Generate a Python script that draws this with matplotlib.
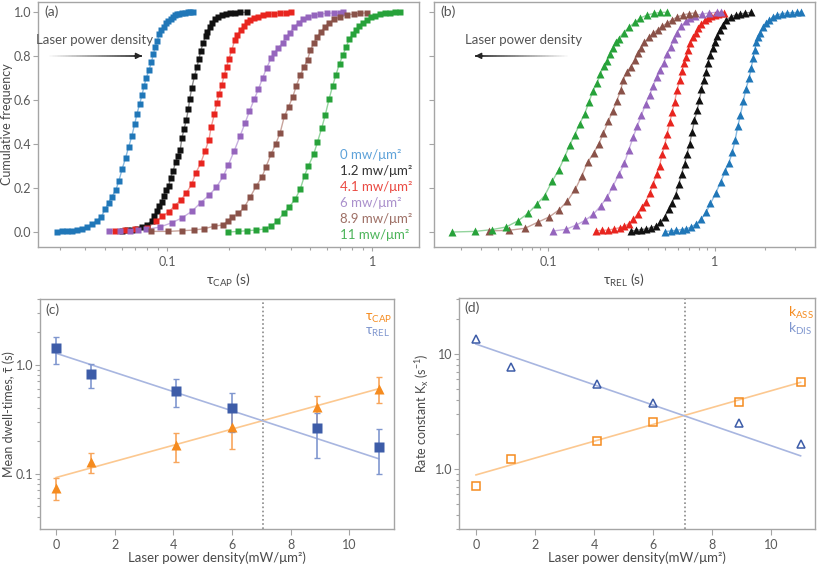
import numpy as np
import matplotlib
matplotlib.use('Agg')
import matplotlib.pyplot as plt
from matplotlib.collections import LineCollection
from matplotlib.ticker import FixedLocator, NullFormatter, LogLocator

plt.rcParams['font.family'] = ['Lato', 'DejaVu Sans']
plt.rcParams['mathtext.fontset'] = 'dejavusans'

# ---------------- data: panel (a) cumulative frequency of tau_CAP ----------------
a_blue_x = [0.0292,0.0308,0.0327,0.0345,0.0365,0.0387,0.0409,0.0432,0.0457,0.0478,0.0500,0.0519,0.0539,0.0564,0.0583,0.0605,0.0628,0.0650,0.0673,0.0695,0.0714,0.0736,0.0755,0.0773,0.0793,0.0817,0.0839,0.0858,0.0877,0.0897,0.0918,0.0938,0.0963,0.0985,0.101,0.104,0.107,0.109,0.112,0.115,0.118,0.122,0.126,0.129,0.134]
a_blue_y = [0.000,0.003,0.003,0.006,0.009,0.015,0.024,0.037,0.052,0.070,0.104,0.134,0.161,0.193,0.234,0.288,0.338,0.387,0.435,0.490,0.539,0.584,0.623,0.664,0.703,0.737,0.772,0.810,0.843,0.871,0.900,0.919,0.935,0.950,0.962,0.971,0.980,0.986,0.991,0.994,0.995,0.998,1.0,1.0,1.0]
a_black_x = [0.0601,0.0635,0.0673,0.0711,0.0752,0.0796,0.0841,0.0867,0.0891,0.0918,0.0942,0.0967,0.0989,0.102,0.104,0.107,0.110,0.113,0.116,0.118,0.121,0.124,0.127,0.129,0.132,0.136,0.140,0.143,0.146,0.150,0.154,0.157,0.162,0.166,0.171,0.178,0.185,0.193,0.203,0.215,0.227,0.245]
a_black_y = [0.005,0.011,0.011,0.014,0.023,0.032,0.050,0.071,0.095,0.117,0.138,0.165,0.192,0.211,0.247,0.276,0.317,0.344,0.374,0.426,0.468,0.508,0.559,0.605,0.656,0.708,0.753,0.786,0.826,0.859,0.892,0.912,0.935,0.953,0.968,0.980,0.988,0.992,0.995,0.998,1.0,1.0]
a_red_x = [0.0557,0.0624,0.0698,0.0796,0.0883,0.0948,0.102,0.109,0.117,0.124,0.132,0.138,0.146,0.153,0.160,0.164,0.170,0.175,0.179,0.185,0.190,0.195,0.200,0.207,0.214,0.220,0.229,0.236,0.245,0.254,0.266,0.279,0.295,0.312,0.333,0.356,0.380,0.401]
a_red_y = [0.006,0.009,0.014,0.018,0.048,0.071,0.092,0.120,0.147,0.177,0.218,0.268,0.314,0.367,0.420,0.477,0.535,0.586,0.626,0.671,0.714,0.750,0.786,0.829,0.874,0.898,0.920,0.938,0.955,0.967,0.974,0.980,0.986,0.991,0.994,0.997,0.998,1.0]
a_purple_x = [0.0519,0.0587,0.0657,0.0722,0.0793,0.0925,0.106,0.118,0.132,0.146,0.160,0.174,0.188,0.199,0.213,0.227,0.240,0.252,0.266,0.279,0.293,0.306,0.321,0.334,0.349,0.366,0.380,0.398,0.418,0.438,0.462,0.489,0.523,0.557,0.601,0.648,0.698,0.724]
a_purple_y = [0.005,0.006,0.006,0.009,0.012,0.023,0.043,0.064,0.094,0.134,0.167,0.204,0.254,0.306,0.371,0.437,0.496,0.549,0.604,0.651,0.703,0.747,0.790,0.816,0.839,0.861,0.886,0.907,0.935,0.953,0.968,0.980,0.988,0.992,0.995,0.997,0.998,1.0]
a_brown_x = [0.0839,0.101,0.118,0.135,0.151,0.169,0.188,0.198,0.208,0.223,0.238,0.254,0.272,0.290,0.303,0.321,0.339,0.356,0.373,0.391,0.410,0.426,0.446,0.466,0.484,0.500,0.520,0.541,0.562,0.590,0.619,0.655,0.698,0.752,0.811,0.873,0.942]
a_brown_y = [0.003,0.003,0.006,0.009,0.015,0.026,0.033,0.052,0.067,0.085,0.113,0.158,0.209,0.250,0.295,0.353,0.402,0.452,0.527,0.569,0.615,0.664,0.714,0.752,0.785,0.828,0.861,0.889,0.912,0.935,0.953,0.968,0.980,0.988,0.992,0.995,0.998]
a_green_x = [0.198,0.223,0.245,0.271,0.299,0.322,0.345,0.372,0.395,0.421,0.446,0.468,0.489,0.518,0.541,0.568,0.590,0.617,0.641,0.665,0.693,0.720,0.747,0.773,0.802,0.832,0.865,0.900,0.942,0.986,1.035,1.094,1.157,1.224,1.294,1.371]
a_green_y = [0.000,0.003,0.006,0.009,0.014,0.027,0.050,0.088,0.116,0.149,0.195,0.257,0.301,0.353,0.409,0.475,0.531,0.607,0.664,0.714,0.767,0.805,0.843,0.877,0.900,0.919,0.938,0.953,0.965,0.977,0.985,0.991,0.995,0.998,1.0,1.0]

# ---------------- data: panel (b) cumulative frequency of tau_REL ----------------
b_blue_x = [0.501,0.542,0.586,0.631,0.675,0.723,0.775,0.826,0.885,0.940,1.01,1.08,1.15,1.21,1.27,1.32,1.37,1.42,1.48,1.53,1.60,1.65,1.69,1.73,1.77,1.82,1.87,1.95,2.03,2.12,2.22,2.36,2.53,2.71,2.90,3.11,3.26]
b_blue_y = [0.002,0.005,0.008,0.011,0.015,0.023,0.038,0.058,0.089,0.130,0.176,0.226,0.276,0.313,0.363,0.417,0.481,0.531,0.597,0.649,0.699,0.745,0.791,0.829,0.863,0.888,0.908,0.933,0.951,0.966,0.979,0.988,0.994,0.997,0.998,1.0,1.0]
b_black_x = [0.315,0.339,0.361,0.387,0.415,0.445,0.472,0.501,0.530,0.555,0.581,0.608,0.631,0.658,0.681,0.706,0.730,0.754,0.782,0.807,0.830,0.857,0.885,0.906,0.940,0.970,0.998,1.03,1.07,1.11,1.17,1.24,1.33,1.42,1.52,1.65]
b_black_y = [0.005,0.008,0.011,0.014,0.020,0.027,0.046,0.069,0.104,0.134,0.169,0.218,0.264,0.310,0.356,0.402,0.455,0.508,0.554,0.600,0.649,0.692,0.730,0.768,0.806,0.837,0.863,0.890,0.921,0.944,0.963,0.979,0.988,0.992,0.997,1.0]
b_red_x = [0.193,0.212,0.230,0.249,0.269,0.287,0.305,0.324,0.345,0.366,0.387,0.407,0.427,0.447,0.466,0.483,0.501,0.518,0.537,0.555,0.573,0.594,0.614,0.637,0.652,0.673,0.692,0.714,0.738,0.766,0.794,0.828,0.867,0.908,0.951,0.995,1.04,1.08,1.13]
b_red_y = [0.005,0.008,0.009,0.014,0.020,0.026,0.038,0.058,0.081,0.115,0.139,0.176,0.218,0.264,0.302,0.353,0.398,0.447,0.501,0.547,0.592,0.646,0.692,0.734,0.768,0.798,0.829,0.860,0.887,0.908,0.928,0.948,0.963,0.974,0.982,0.988,0.992,0.995,0.997]
b_purple_x = [0.108,0.128,0.148,0.167,0.187,0.207,0.227,0.246,0.267,0.287,0.305,0.324,0.342,0.363,0.384,0.406,0.427,0.447,0.472,0.494,0.518,0.542,0.568,0.594,0.628,0.667,0.714,0.764,0.838,0.918,1.03,1.08]
b_purple_y = [0.005,0.012,0.032,0.053,0.081,0.119,0.160,0.211,0.264,0.313,0.374,0.432,0.481,0.531,0.582,0.623,0.664,0.704,0.737,0.771,0.811,0.844,0.878,0.908,0.936,0.959,0.974,0.985,0.992,0.997,1.0,1.0]
b_brown_x = [0.0444,0.0585,0.0729,0.0877,0.102,0.117,0.131,0.146,0.159,0.173,0.188,0.202,0.215,0.230,0.245,0.258,0.273,0.282,0.298,0.315,0.330,0.345,0.361,0.378,0.402,0.427,0.455,0.483,0.518,0.555,0.594,0.646,0.698,0.755]
b_brown_y = [0.005,0.008,0.017,0.046,0.069,0.102,0.142,0.195,0.253,0.318,0.359,0.402,0.450,0.505,0.551,0.595,0.646,0.692,0.730,0.753,0.783,0.814,0.837,0.863,0.887,0.905,0.921,0.936,0.951,0.966,0.979,0.988,0.994,0.997]
b_green_x = [0.0267,0.0365,0.0463,0.0562,0.0662,0.0760,0.0861,0.0957,0.106,0.116,0.126,0.135,0.145,0.155,0.166,0.176,0.186,0.197,0.206,0.216,0.226,0.234,0.244,0.254,0.265,0.284,0.305,0.331,0.358,0.393,0.431,0.472,0.518]
b_green_y = [0.0,0.003,0.011,0.023,0.051,0.085,0.128,0.166,0.231,0.282,0.342,0.395,0.443,0.492,0.538,0.591,0.642,0.677,0.720,0.754,0.777,0.811,0.838,0.865,0.880,0.908,0.931,0.954,0.974,0.988,0.995,1.0,1.0]

power_labels = ['0 mw/μm²', '1.2 mw/μm²', '4.1 mw/μm²', '6 mw/μm²', '8.9 mw/μm²', '11 mw/μm²']

# ---------------- data: panels (c) and (d) ----------------
power = [0, 1.2, 4.1, 6, 8.9, 11]
tau_cap = [0.074, 0.129, 0.184, 0.265, 0.406, 0.60]
tau_cap_lo = [0.057, 0.102, 0.129, 0.168, 0.275, 0.446]
tau_cap_hi = [0.092, 0.156, 0.236, 0.377, 0.52, 0.77]
tau_rel = [1.41, 0.82, 0.57, 0.40, 0.26, 0.177]
tau_rel_lo = [1.02, 0.61, 0.412, 0.239, 0.14, 0.099]
tau_rel_hi = [1.80, 1.02, 0.736, 0.55, 0.36, 0.256]
k_ass = [0.716, 1.23, 1.76, 2.55, 3.83, 5.67]
k_dis = [13.4, 7.71, 5.45, 3.75, 2.49, 1.65]
fit_x = [0, 11]
tau_cap_fit = [0.092, 0.60]
tau_rel_fit = [1.27, 0.137]
k_ass_fit = [0.887, 5.67]
k_dis_fit = [12.2, 1.30]
cross_x = 7.07

# ---------------- styles ----------------
marker_colors = ['#2077b8', '#111111', '#e8251f', '#9565bd', '#8a5249', '#27a23a']
fit_colors = ['#86b9e0', '#8a8a8a', '#f09a96', '#c8b0e0', '#c8a49c', '#93d49d']
text_colors = ['#5ea2d9', '#333333', '#ea4a42', '#aa90cc', '#9e7066', '#4cb45a']
orange = '#f58b1f'
orange_line = '#fcc890'
orange_err = '#f8a65c'
blue = '#3d5ca8'
blue_line = '#a8b6e0'
blue_err = '#8097cf'
spine_c = '#a5a5a5'
tick_lc = '#5a5a5a'
label_c = '#4a4a4a'

fig = plt.figure(figsize=(8.17, 5.67), dpi=100)
axa = fig.add_axes([0.0465, 0.5644, 0.4663, 0.4321])
axb = fig.add_axes([0.5312, 0.5644, 0.4663, 0.4321])
axc = fig.add_axes([0.049, 0.0670, 0.4333, 0.4057])
axd = fig.add_axes([0.5618, 0.0670, 0.4358, 0.4074])


def style(ax):
    for s in ax.spines.values():
        s.set_color(spine_c)
        s.set_linewidth(1.0)
    ax.tick_params(which='both', direction='out', color=spine_c, labelcolor=tick_lc,
                   labelsize=9, top=False, right=False)
    ax.tick_params(which='major', length=4, width=0.8)
    ax.tick_params(which='minor', length=2.5, width=0.8)
    ax.tick_params(axis='y', which='major', pad=1.5, length=3.5)


def grad_arrow(ax, x_tail, x_head, y):
    n = 60
    xs = np.linspace(x_tail, x_head, n + 1)
    segs = [[(xs[i], y), (xs[i + 1], y)] for i in range(n)]
    t = np.linspace(0, 1, n)
    cols = [(1 - 0.85 * v, 1 - 0.85 * v, 1 - 0.85 * v, 1) for v in t]
    lc = LineCollection(segs, colors=cols, linewidths=1.3, transform=ax.transAxes)
    ax.add_collection(lc)
    d = 0.02 if x_head > x_tail else -0.02
    ax.annotate('', xy=(x_head, y), xytext=(x_head - d, y), xycoords='axes fraction',
                textcoords='axes fraction',
                arrowprops=dict(arrowstyle='-|>', color='#262626', lw=1.0,
                                mutation_scale=9, shrinkA=0, shrinkB=0))


cum_a = [(a_blue_x, a_blue_y), (a_black_x, a_black_y), (a_red_x, a_red_y),
         (a_purple_x, a_purple_y), (a_brown_x, a_brown_y), (a_green_x, a_green_y)]
cum_b = [(b_blue_x, b_blue_y), (b_black_x, b_black_y), (b_red_x, b_red_y),
         (b_purple_x, b_purple_y), (b_brown_x, b_brown_y), (b_green_x, b_green_y)]

for ax, data, mk, xl in [(axa, cum_a, 's', (0.0235, 1.69)), (axb, cum_b, '^', (0.0208, 3.97))]:
    style(ax)
    for i, (xs, ys) in enumerate(data):
        ax.plot(xs, ys, '-', color=fit_colors[i], lw=1.0, zorder=2)
        ax.plot(xs, ys, mk, color=marker_colors[i], ms=4.9 if mk == 's' else 5.5,
                mec='none', zorder=3)
    ax.set_xscale('log')
    ax.set_xlim(*xl)
    ax.set_ylim(-0.068, 1.047)
    ax.xaxis.set_major_locator(FixedLocator([0.1, 1]))
    ax.set_xticklabels(['0.1', '1'])
    ax.xaxis.set_minor_locator(LogLocator(base=10, subs=np.arange(2, 10)))
    ax.xaxis.set_minor_formatter(NullFormatter())
    ax.set_yticks([0, 0.2, 0.4, 0.6, 0.8, 1.0])
    ax.tick_params(axis='x', which='major', length=3)

axa.set_yticklabels(['0.0', '0.2', '0.4', '0.6', '0.8', '1.0'])
axb.set_yticklabels([])
axa.set_ylabel('Cumulative frequency', fontsize=9, color=label_c)
axa.yaxis.set_label_coords(-0.066, 0.5)
axa.set_xlabel('τ$_{\\mathregular{CAP}}$ (s)', fontsize=10, color=label_c)
axa.xaxis.set_label_coords(0.5, -0.100)
axb.set_xlabel('τ$_{\\mathregular{REL}}$ (s)', fontsize=10, color=label_c)
axb.xaxis.set_label_coords(0.5, -0.100)

for i, lab in enumerate(power_labels):
    axa.text(0.793, 0.376 - i * 0.0657, lab, transform=axa.transAxes, color=text_colors[i],
             fontsize=9.5, ha='left', va='center')

axa.text(0.148, 0.845, 'Laser power density', transform=axa.transAxes, fontsize=9.5,
         color='#555555', ha='center', va='center')
grad_arrow(axa, 0.024, 0.273, 0.78)
axb.text(0.234, 0.845, 'Laser power density', transform=axb.transAxes, fontsize=9.5,
         color='#555555', ha='center', va='center')
grad_arrow(axb, 0.357, 0.108, 0.78)

axa.text(0.018, 0.959, '(a)', transform=axa.transAxes, fontsize=10, color='#555555', va='center')
axb.text(0.018, 0.959, '(b)', transform=axb.transAxes, fontsize=10, color='#555555', va='center')

# ---------------- panel (c) ----------------
style(axc)
pw = np.array(power)
axc.plot(fit_x, tau_cap_fit, '-', color=orange_line, lw=1.2, zorder=2)
axc.plot(fit_x, tau_rel_fit, '-', color=blue_line, lw=1.2, zorder=2)
axc.errorbar(pw, tau_cap, yerr=[np.array(tau_cap) - np.array(tau_cap_lo),
                                np.array(tau_cap_hi) - np.array(tau_cap)],
             fmt='none', ecolor=orange_err, elinewidth=1.2, capsize=2, capthick=1, zorder=3)
axc.errorbar(pw, tau_rel, yerr=[np.array(tau_rel) - np.array(tau_rel_lo),
                                np.array(tau_rel_hi) - np.array(tau_rel)],
             fmt='none', ecolor=blue_err, elinewidth=1.2, capsize=2, capthick=1, zorder=3)
axc.plot(pw, tau_cap, '^', color=orange, ms=7, mec='none', zorder=4)
axc.plot(pw, tau_rel, 's', color=blue, ms=7, mec='none', zorder=4)
axc.axvline(cross_x, color='#8a8a8a', ls=(0, (1, 1.5)), lw=1.2, zorder=1)
axc.set_yscale('log')
axc.set_xlim(-0.55, 11.53)
axc.set_ylim(0.031, 4.0)
axc.set_xticks([0, 2, 4, 6, 8, 10])
axc.yaxis.set_major_locator(FixedLocator([0.1, 1.0]))
axc.set_yticklabels(['0.1', '1.0'])
axc.yaxis.set_minor_locator(LogLocator(base=10, subs=np.arange(2, 10)))
axc.yaxis.set_minor_formatter(NullFormatter())
axc.set_ylabel('Mean dwell-times, τ\u0304 (s)', fontsize=9, color=label_c)
axc.yaxis.set_label_coords(-0.071, 0.5)
axc.set_xlabel('Laser power density(mW/μm²)', fontsize=9.5, color=label_c)
axc.xaxis.set_label_coords(0.5, -0.098)
axc.text(0.918, 0.918, 'τ$_{\\mathregular{CAP}}$', transform=axc.transAxes, color=orange,
         fontsize=10, va='center')
axc.text(0.918, 0.855, 'τ$_{\\mathregular{REL}}$', transform=axc.transAxes, color=blue_err,
         fontsize=10, va='center')
axc.text(0.014, 0.955, '(c)', transform=axc.transAxes, fontsize=10, color='#555555', va='center')

# ---------------- panel (d) ----------------
style(axd)
axd.plot(fit_x, k_ass_fit, '-', color=orange_line, lw=1.2, zorder=2)
axd.plot(fit_x, k_dis_fit, '-', color=blue_line, lw=1.2, zorder=2)
axd.plot(pw, k_ass, 's', mfc='none', mec=orange, mew=1.1, ms=6, zorder=4)
axd.plot(pw, k_dis, '^', mfc='none', mec=blue, mew=1.1, ms=5.5, zorder=4)
axd.axvline(cross_x, color='#8a8a8a', ls=(0, (1, 1.5)), lw=1.2, zorder=1)
axd.set_yscale('log')
axd.set_xlim(-0.576, 11.49)
axd.set_ylim(0.30, 30.7)
axd.set_xticks([0, 2, 4, 6, 8, 10])
axd.yaxis.set_major_locator(FixedLocator([1.0, 10.0]))
axd.set_yticklabels(['1.0', '10'])
axd.yaxis.set_minor_locator(LogLocator(base=10, subs=np.arange(2, 10)))
axd.yaxis.set_minor_formatter(NullFormatter())
axd.set_ylabel('Rate constant K$_{\\mathregular{x}}$ (s$^{\\mathregular{-1}}$)', fontsize=9,
               color=label_c)
axd.yaxis.set_label_coords(-0.079, 0.5)
axd.set_xlabel('Laser power density(mW/μm²)', fontsize=9.5, color=label_c)
axd.xaxis.set_label_coords(0.5, -0.098)
axd.text(0.923, 0.935, 'k$_{\\mathregular{ASS}}$', transform=axd.transAxes, color=orange,
         fontsize=10, va='center')
axd.text(0.923, 0.866, 'k$_{\\mathregular{DIS}}$', transform=axd.transAxes, color=blue_err,
         fontsize=10, va='center')
axd.text(0.015, 0.96, '(d)', transform=axd.transAxes, fontsize=10, color='#555555', va='center')

fig.savefig('out.png', dpi=100)
